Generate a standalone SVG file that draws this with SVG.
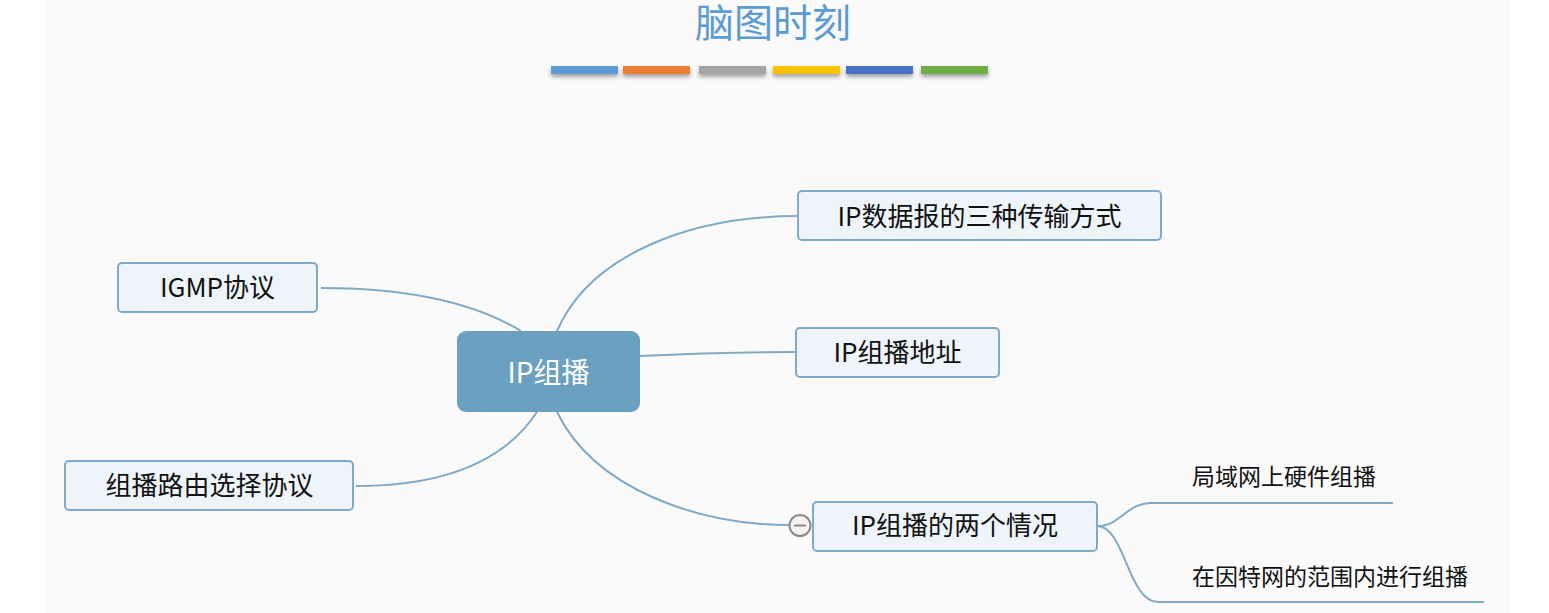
<svg xmlns="http://www.w3.org/2000/svg" width="1549" height="613" viewBox="0 0 1549 613">
<defs>
<filter id="sh" x="-10%" y="-50%" width="120%" height="250%">
<feDropShadow dx="0" dy="3" stdDeviation="2" flood-color="#000" flood-opacity="0.35"/>
</filter>
</defs>
<style>
.t{font-family:"Noto Sans CJK SC","Noto Sans",sans-serif;text-anchor:middle;fill:#111}
.node{fill:#eef4f9;stroke:#7eaacb;stroke-width:2}
.c{fill:none;stroke:#7fa9c6;stroke-width:2}
.sub{font-family:"Noto Sans CJK SC","Noto Sans",sans-serif;font-size:23px;fill:#111}
</style>
<rect x="0" y="0" width="1549" height="613" fill="#ffffff"/>
<rect x="47" y="0" width="1464" height="613" fill="#fafafa"/>
<g id="title">
<text x="773" y="37" font-family="Noto Sans CJK SC, sans-serif" font-size="39" fill="#5b9bd5" text-anchor="middle">脑图时刻</text>
<g filter="url(#sh)">
<rect x="551" y="66" width="67" height="8" fill="#5b9bd5"/>
<rect x="623" y="66" width="67" height="8" fill="#ed7d31"/>
<rect x="699" y="66" width="67" height="8" fill="#a5a5a5"/>
<rect x="773" y="66" width="67" height="8" fill="#ffc000"/>
<rect x="846" y="66" width="67" height="8" fill="#4472c4"/>
<rect x="921" y="66" width="67" height="8" fill="#70ad47"/>
</g>
</g>
<g id="connectors">
<path class="c" d="M557,331 C590,255 690,216 798,216"/>
<path class="c" d="M640,356 C700,353 740,352 796,352"/>
<path class="c" d="M557,412 C595,490 700,525 789,525"/>
<path class="c" d="M521,331 C470,300 400,288 321,288"/>
<path class="c" d="M537,412 C500,468 430,486 356,486"/>
<path class="c" d="M1097,526 C1122,526 1125,503 1152,503 L1393,503"/>
<path class="c" d="M1097,526 C1125,526 1128,602 1158,602 L1484,602"/>
</g>
<g id="n-center">
<rect x="457" y="331" width="183" height="81" rx="9" fill="#6ba0c1"/>
<text class="t" x="548.5" y="383" font-size="28" style="fill:#ffffff">IP组播</text>
</g>
<g id="n-datagram">
<rect class="node" x="798" y="191" width="363" height="49" rx="4"/>
<text class="t" x="979.5" y="226" font-size="26">IP数据报的三种传输方式</text>
</g>
<g id="n-address">
<rect class="node" x="796" y="328" width="203" height="49" rx="4"/>
<text class="t" x="897.5" y="362" font-size="26">IP组播地址</text>
</g>
<g id="n-cases">
<rect class="node" x="813" y="502" width="284" height="49" rx="4"/>
<text class="t" x="955" y="535" font-size="26">IP组播的两个情况</text>
<circle cx="800" cy="525.5" r="10.5" fill="#f4f4f4" stroke="#8a8a8a" stroke-width="2"/>
<line x1="794" y1="525.5" x2="806" y2="525.5" stroke="#8a8a8a" stroke-width="2"/>
</g>
<g id="n-igmp">
<rect class="node" x="118" y="263" width="199" height="49" rx="4"/>
<text class="t" x="217.5" y="297" font-size="26">IGMP协议</text>
</g>
<g id="n-routing">
<rect class="node" x="65" y="461" width="288" height="49" rx="4"/>
<text class="t" x="209.5" y="495" font-size="26">组播路由选择协议</text>
</g>
<g id="n-lan">
<text class="sub" x="1192" y="485">局域网上硬件组播</text>
</g>
<g id="n-internet">
<text class="sub" x="1192" y="585">在因特网的范围内进行组播</text>
</g>
</svg>
